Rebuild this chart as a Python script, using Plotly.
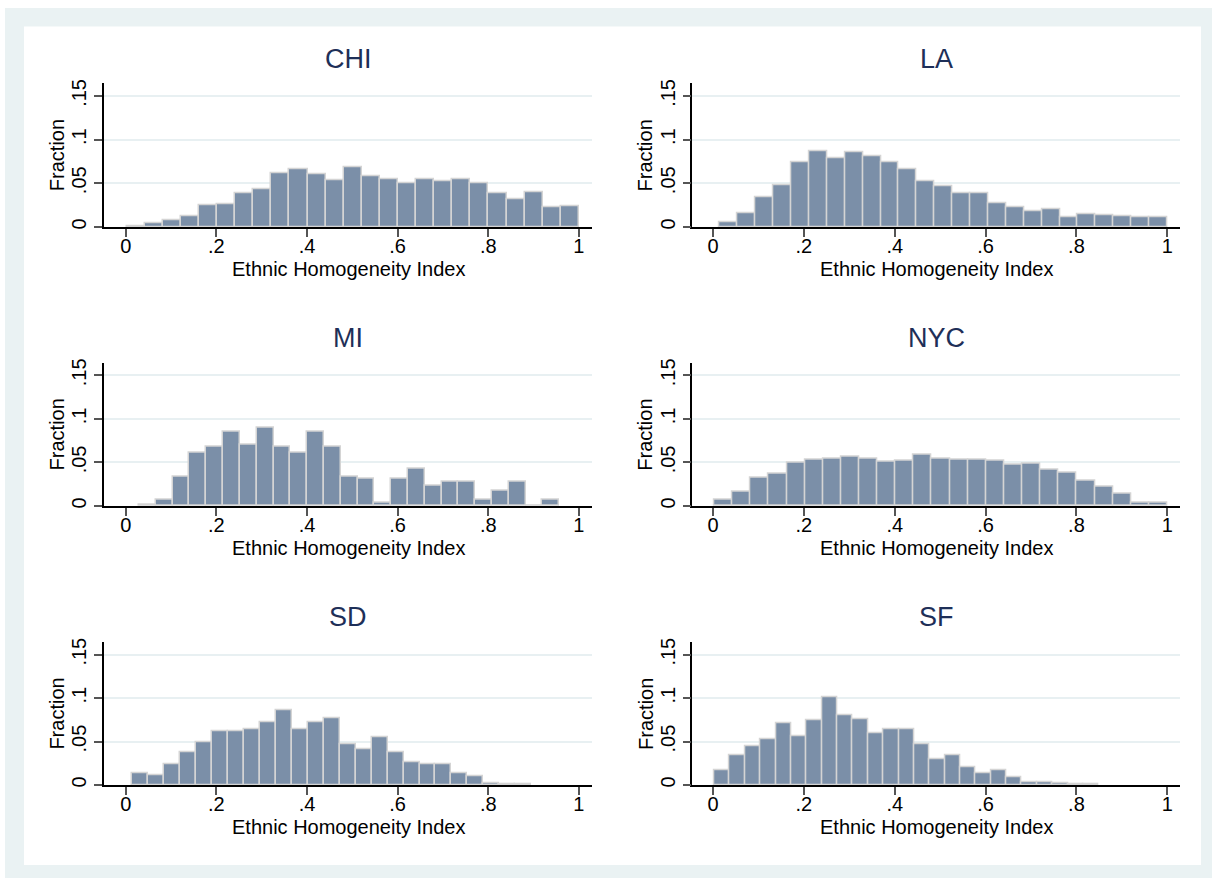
import numpy as np
import plotly.graph_objects as go

# ---- data ----
cities = ["CHI", "LA", "MI", "NYC", "SD", "SF"]
bin_min = [0.002, 0.0147, 0.0294, 0.003, 0.0147, 0.003]
bin_max = [1.0, 1.0, 0.9566, 1.0, 0.8948, 0.8488]

chi = [0.001, 0.0045, 0.007, 0.0125, 0.025, 0.026, 0.038, 0.043, 0.061, 0.0655,
       0.060, 0.053, 0.068, 0.0575, 0.055, 0.050, 0.055, 0.052, 0.0545, 0.0495,
       0.038, 0.031, 0.040, 0.022, 0.023]
la = [0.005, 0.0155, 0.034, 0.048, 0.074, 0.086, 0.078, 0.085, 0.081, 0.0735,
      0.066, 0.0527, 0.0466, 0.038, 0.038, 0.027, 0.0227, 0.018, 0.0205, 0.011,
      0.014, 0.013, 0.012, 0.011, 0.011]
mi = [0.0019, 0.0068, 0.0338, 0.0605, 0.0684, 0.0848, 0.0707, 0.0897, 0.0684, 0.0605,
      0.0848, 0.0684, 0.0338, 0.0312, 0.0038, 0.0312, 0.0422, 0.0228, 0.0278, 0.0278,
      0.0068, 0.0175, 0.0278, 0.0, 0.0068]
nyc = [0.0072, 0.016, 0.0323, 0.0369, 0.0494, 0.0532, 0.054, 0.0563, 0.054, 0.0502,
       0.0521, 0.0582, 0.054, 0.0532, 0.0525, 0.0513, 0.0475, 0.0483, 0.0414, 0.038,
       0.0289, 0.022, 0.014, 0.0038, 0.0038]
sd = [0.014, 0.0118, 0.0235, 0.038, 0.049, 0.0615, 0.0615, 0.0638, 0.0729, 0.0862,
      0.0638, 0.0729, 0.0767, 0.0471, 0.0414, 0.0547, 0.038, 0.0266, 0.0235, 0.0235,
      0.0137, 0.0099, 0.0023, 0.0008, 0.0008]
sf = [0.0171, 0.0349, 0.0452, 0.0524, 0.071, 0.0566, 0.0748, 0.1014, 0.0809, 0.0763,
      0.0596, 0.0638, 0.0638, 0.0475, 0.0292, 0.0338, 0.0201, 0.014, 0.0175, 0.0087,
      0.0038, 0.0038, 0.0027, 0.0011, 0.0015]
fractions = [chi, la, mi, nyc, sd, sf]

x_tickvals = [0, 0.2, 0.4, 0.6, 0.8, 1.0]
x_ticktext = ["0", ".2", ".4", ".6", ".8", "1"]
y_tickvals = [0, 0.05, 0.1, 0.15]
y_ticktext = ["0", ".05", ".1", ".15"]
x_title = "Ethnic Homogeneity Index"
y_title = "Fraction"

# ---- styling / layout ----
W, H = 1212, 881
FONT = "Liberation Sans, Arial, Helvetica, sans-serif"
BAR = "#7b8fa8"
BAR_LINE = "#d4d4d4"
GRID = "#e8f0f2"
BG = "#eaf2f3"
TITLE_C = "#1e2f58"

col_px = [(104, 592), (692.3, 1180)]
row_px = [(80, 224.7), (361.7, 506), (643.3, 787.3)]
xr = [[-0.048, 1.029], [-0.0456, 1.028]]
ytop = 0.1644

def px_x(p):
    return p / W

def px_y(p):
    return 1 - p / H

fig = go.Figure()
layout = dict(
    width=W, height=H,
    margin=dict(l=0, r=0, t=0, b=0),
    paper_bgcolor="white",
    plot_bgcolor="white",
    showlegend=False,
    font=dict(family=FONT, size=20, color="black"),
    bargap=0,
)
annotations = []
for i, city in enumerate(cities):
    r, c = divmod(i, 2)
    n = len(fractions[i])
    edges = np.linspace(bin_min[i], bin_max[i], n + 1)
    centers = (edges[:-1] + edges[1:]) / 2
    width = edges[1] - edges[0]
    ax = "" if i == 0 else str(i + 1)
    fig.add_trace(go.Bar(
        x=centers, y=fractions[i], width=[width] * n,
        marker=dict(color=BAR, line=dict(color=BAR_LINE, width=1.5)),
        xaxis="x" + ax, yaxis="y" + ax, hoverinfo="x+y",
    ))
    x0, x1 = col_px[c]
    y0, y1 = row_px[r]
    layout["xaxis" + ax] = dict(
        domain=[px_x(x0), px_x(x1)], range=xr[c], anchor="y" + ax,
        tickvals=x_tickvals, ticktext=x_ticktext, ticks="outside", ticklen=8,
        tickwidth=1.5, tickcolor="#555555", showline=True, linecolor="black",
        linewidth=1.5, showgrid=False, zeroline=False, ticklabelstandoff=-8,
        tickfont=dict(size=20, color="black"),
    )
    layout["yaxis" + ax] = dict(
        domain=[px_y(y1), px_y(y0)], range=[0, ytop], anchor="x" + ax,
        tickvals=y_tickvals, ticktext=y_ticktext, ticks="outside", ticklen=8,
        tickwidth=1.5, tickcolor="#555555", showline=True, linecolor="black",
        linewidth=1.5, showgrid=True, gridcolor=GRID, gridwidth=1.5,
        zeroline=False, tickangle=-90,
        tickfont=dict(size=20, color="black"),
    )
    xc = (x0 + x1) / 2
    annotations.append(dict(
        text=city, x=px_x(xc), y=px_y(y0 - 25), xref="paper", yref="paper",
        xanchor="center", yanchor="middle", showarrow=False,
        font=dict(size=27, color=TITLE_C, family=FONT),
    ))
    annotations.append(dict(
        text=x_title, x=px_x(xc), y=px_y(y1 + 42), xref="paper", yref="paper",
        xanchor="center", yanchor="middle", showarrow=False,
        font=dict(size=20, color="black", family=FONT),
    ))
    annotations.append(dict(
        text=y_title, x=px_x(x0 - 47), y=px_y((y0 + y1) / 2), xref="paper",
        yref="paper", xanchor="center", yanchor="middle", showarrow=False,
        textangle=-90, font=dict(size=20, color="black", family=FONT),
    ))

layout["annotations"] = annotations
layout["shapes"] = [
    dict(type="rect", xref="paper", yref="paper", x0=px_x(5), x1=1,
         y0=0, y1=px_y(4), fillcolor=BG, line=dict(width=0), layer="below"),
    dict(type="rect", xref="paper", yref="paper", x0=px_x(24), x1=px_x(1201),
         y0=px_y(868), y1=px_y(22.7), fillcolor="white", line=dict(width=0),
         layer="below"),
]
fig.update_layout(**layout)
fig.write_html(
    "out.html",
    config={"displayModeBar": False},
    post_script="document.body.style.margin='0';document.body.style.overflow='hidden';",
)
